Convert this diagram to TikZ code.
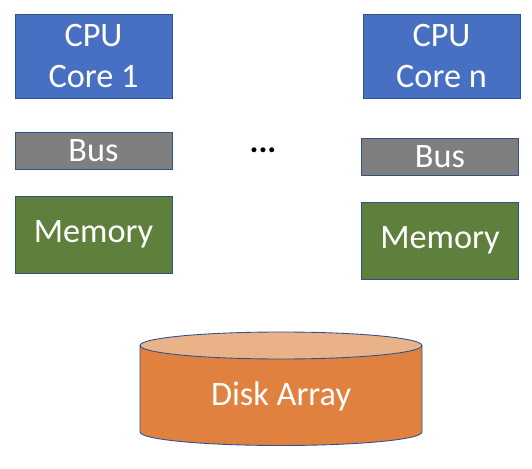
\documentclass[tikz,border=0pt]{standalone}
\usepackage{fontspec}
\setmainfont{Carlito}
\usepackage{tikz}
\usetikzlibrary{positioning}
\definecolor{CoreBlue}{RGB}{72,112,194}
\definecolor{BusGray}{RGB}{127,127,127}
\definecolor{MemGreen}{RGB}{95,128,60}
\definecolor{DiskOrange}{RGB}{224,129,64}
\definecolor{DiskTop}{RGB}{233,178,136}
\definecolor{EdgeBlue}{RGB}{47,82,143}

\begin{document}
\begin{tikzpicture}[x=0.02cm, y=0.02cm,
          unit/.style={rectangle, draw=EdgeBlue, line width=0.5pt, text=white,
                       minimum width=3.14cm, font=\fontsize{19.5}{23.5}\selectfont,
                       align=center, inner sep=0pt},
          cpu/.style={unit, fill=CoreBlue, minimum height=1.68cm},
          bus/.style={unit, fill=BusGray, minimum height=0.73cm},
          mem/.style={unit, fill=MemGreen, minimum height=1.54cm}
        ]
        \useasboundingbox (0,0) rectangle (532,468);

        % left core
        \node[cpu] (cpuA) at (93.5, 412) {CPU\\Core 1};
        \node[bus] (busA) at (93.5, 317) {Bus};
        \node[mem] (memA) at (93.5, 233.5) {Memory};

        % dots between
        \node[font=\fontsize{19}{23}\selectfont\bfseries] (gap) at (263, 318) {...};

        % right core
        \node[cpu] (cpuN) at (441.5, 412) {CPU\\Core n};
        \node[bus] (busN) at (440, 311) {Bus};
        \node[mem] (memN) at (440, 227.5) {Memory};

        % disk array
        \draw[EdgeBlue, line width=0.5pt, fill=DiskOrange]
              (140, 122.5) -- (140, 36)
              arc[start angle=180, end angle=360, x radius=141, y radius=13.5]
              -- (422, 122.5) -- cycle;
        \draw[EdgeBlue, line width=0.5pt, fill=DiskTop]
              (281, 122.5) ellipse[x radius=141, y radius=13.5];
        \node[text=white, font=\fontsize{19.5}{23.5}\selectfont] (disk) at (281, 72)
              {Disk Array};
      \end{tikzpicture}
\end{document}
